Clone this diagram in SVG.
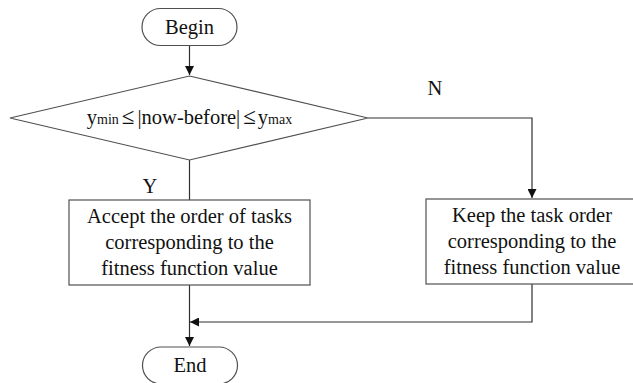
<svg xmlns="http://www.w3.org/2000/svg" width="633" height="383" viewBox="0 0 633 383">
<style>
.s{fill:#fff;stroke:#505050;stroke-width:1.2}
.c{fill:none;stroke:#303030;stroke-width:1.2}
text{font-family:"Liberation Serif","Times New Roman",serif;font-size:20.5px;fill:#111}
.m{text-anchor:middle}
.sub{font-size:14px}
.le{font-size:23px}
</style>
<defs>
<marker id="a" viewBox="0 0 10 10" refX="10" refY="5" markerWidth="9" markerHeight="9" markerUnits="userSpaceOnUse" orient="auto">
<path d="M0,0L10,5L0,10z" fill="#111"/>
</marker>
</defs>
<g id="connectors">
<path class="c" d="M189.5,45V75" marker-end="url(#a)"/>
<path class="c" d="M189.5,160V200"/>
<path class="c" d="M368,118H532V198" marker-end="url(#a)"/>
<path class="c" d="M189.5,285V346" marker-end="url(#a)"/>
<path class="c" d="M532,284V322H190" marker-end="url(#a)"/>
<text x="435" y="95" class="m">N</text>
<text x="150" y="193" class="m">Y</text>
</g>
<g id="begin">
<rect class="s" x="142" y="8.5" width="95" height="37" rx="18.5"/>
<text x="189.5" y="34" class="m">Begin</text>
</g>
<g id="decision">
<polygon class="s" points="189.5,76 368,118 189.5,160 10,118"/>
<text x="189.5" y="124" class="m">y<tspan class="sub">min</tspan><tspan class="le" dx="3">≤</tspan><tspan dx="3">|now-before|</tspan><tspan class="le" dx="3">≤</tspan><tspan dx="2">y</tspan><tspan class="sub">max</tspan></text>
</g>
<g id="accept">
<rect class="s" x="69" y="200" width="241" height="85"/>
<text x="189.5" y="223" class="m">Accept the order of tasks</text>
<text x="189.5" y="249" class="m">corresponding to the</text>
<text x="189.5" y="275" class="m">fitness function value</text>
</g>
<g id="keep">
<rect class="s" x="426" y="199" width="212" height="85"/>
<text x="532" y="222" class="m">Keep the task order</text>
<text x="532" y="248" class="m">corresponding to the</text>
<text x="532" y="274" class="m">fitness function value</text>
</g>
<g id="end">
<rect class="s" x="142.5" y="347" width="95" height="37" rx="18.5"/>
<text x="190" y="372" class="m">End</text>
</g>
</svg>
